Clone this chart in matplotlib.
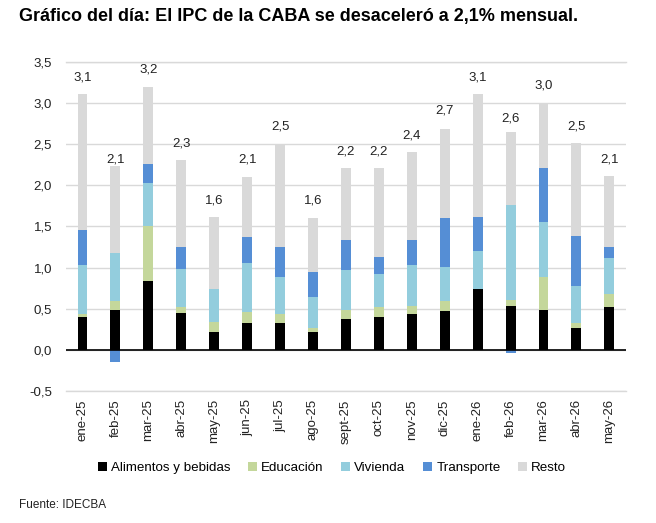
import numpy as np
import matplotlib.pyplot as plt
from matplotlib.patches import Patch

plt.rcParams['font.family'] = ['Liberation Sans', 'DejaVu Sans']

months = ['ene-25', 'feb-25', 'mar-25', 'abr-25', 'may-25', 'jun-25', 'jul-25',
          'ago-25', 'sept-25', 'oct-25', 'nov-25', 'dic-25', 'ene-26', 'feb-26',
          'mar-26', 'abr-26', 'may-26']

alimentos = [0.40, 0.48, 0.84, 0.45, 0.22, 0.33, 0.33, 0.22, 0.38, 0.40, 0.43, 0.47, 0.74, 0.53, 0.48, 0.27, 0.52]
educacion = [0.03, 0.11, 0.66, 0.07, 0.12, 0.13, 0.10, 0.05, 0.10, 0.12, 0.10, 0.12, 0.00, 0.08, 0.41, 0.06, 0.16]
vivienda = [0.60, 0.59, 0.53, 0.46, 0.40, 0.60, 0.45, 0.37, 0.49, 0.40, 0.50, 0.42, 0.46, 1.15, 0.66, 0.45, 0.44]
transporte = [0.43, -0.15, 0.23, 0.27, 0.00, 0.31, 0.37, 0.31, 0.37, 0.21, 0.31, 0.59, 0.42, -0.04, 0.66, 0.60, 0.13]
resto = [1.65, 1.06, 0.94, 1.06, 0.88, 0.73, 1.25, 0.65, 0.87, 1.08, 1.07, 1.09, 1.49, 0.89, 0.79, 1.13, 0.86]
totales = [3.1, 2.1, 3.2, 2.3, 1.6, 2.1, 2.5, 1.6, 2.2, 2.2, 2.4, 2.7, 3.1, 2.6, 3.0, 2.5, 2.1]

series = [
    ('Alimentos y bebidas', alimentos, '#000000'),
    ('Educación', educacion, '#c4d79b'),
    ('Vivienda', vivienda, '#93cddd'),
    ('Transporte', transporte, '#558ed5'),
    ('Resto', resto, '#d9d9d9'),
]

fig = plt.figure(figsize=(6.56, 5.23), dpi=100)
ax = fig.add_axes([0.1006, 0.2524, 0.8534, 0.6291])

x = np.arange(len(months))
pos_base = np.zeros(len(months))
neg_base = np.zeros(len(months))
for name, vals, color in series:
    v = np.array(vals)
    bottom = np.where(v >= 0, pos_base, neg_base)
    ax.bar(x, v, bottom=bottom, width=0.3, color=color, zorder=3)
    pos_base += np.where(v >= 0, v, 0)
    neg_base += np.where(v < 0, v, 0)

for xi, t in zip(x, totales):
    ax.text(xi, t + 0.21, f'{t:.1f}'.replace('.', ','), ha='center', va='center',
            fontsize=9.5, color='#222222')

ax.set_xlim(-0.5, len(months) - 0.5)
ax.set_ylim(-0.5, 3.5)
yt = np.arange(-0.5, 3.51, 0.5)
ax.set_yticks(yt)
ax.set_yticklabels([f'{v:.1f}'.replace('.', ',') for v in yt], fontsize=9.5, color='#222222')
ax.set_xticks(x)
ax.set_xticklabels(months, rotation=90, fontsize=9.5, color='#222222')
ax.tick_params(axis='both', length=0)
ax.tick_params(axis='x', pad=6)
ax.tick_params(axis='y', pad=10)
ax.grid(axis='y', color='#d9d9d9', lw=1, zorder=0)
for yv in (-0.5, 3.5):
    ax.axhline(yv, color='#d9d9d9', lw=1, zorder=0, clip_on=False)
ax.axhline(0, color='black', lw=1.2, zorder=4)
for s in ax.spines.values():
    s.set_visible(False)

handles = [Patch(facecolor=c, label=n) for n, _, c in series]
fig.legend(handles=handles, loc='center', bbox_to_anchor=(0.506, 0.105), ncol=5,
           frameon=False, fontsize=9.6, handlelength=0.7, handleheight=0.7,
           handletextpad=0.3, columnspacing=1.3)

fig.text(0.029, 0.968, 'Gráfico del día: El IPC de la CABA se desaceleró a 2,1% mensual.',
         fontsize=13, fontweight='bold', ha='left', va='center')
fig.text(0.029, 0.035, 'Fuente: IDECBA', fontsize=8.5, ha='left', va='center', color='#222222')

fig.savefig('out.png', dpi=100)
